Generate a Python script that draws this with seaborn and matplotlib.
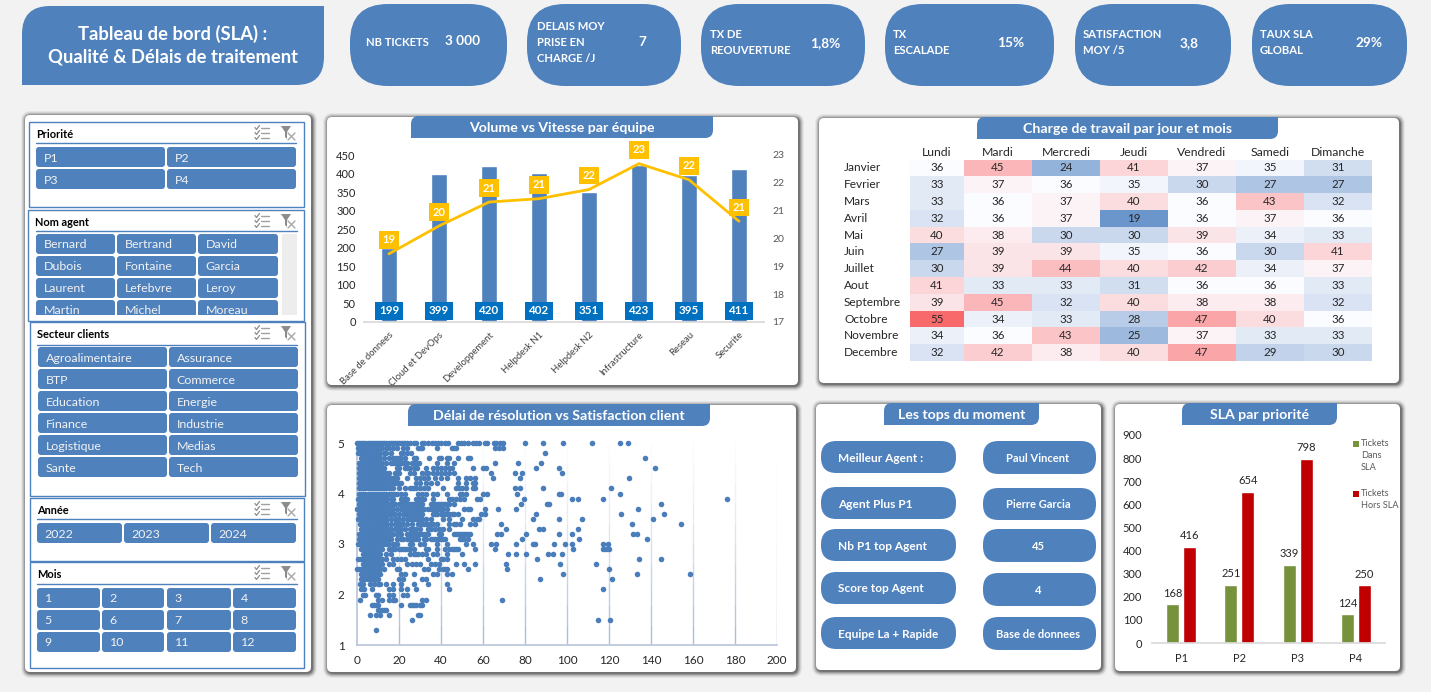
import matplotlib
matplotlib.use("Agg")
import matplotlib.pyplot as plt
import numpy as np
import pandas as pd
import seaborn as sns
from matplotlib.patches import FancyBboxPatch, PathPatch, Rectangle, Polygon
from matplotlib.path import Path
from matplotlib.colors import LinearSegmentedColormap

W, H = 1431, 692
BLUE = "#4F81BD"
BG = "#F2F2F2"

# --- data ---
teams = ["Base de donnees", "Cloud et DevOps", "Developpement", "Helpdesk N1",
         "Helpdesk N2", "Infrastructure", "Reseau", "Securite"]
volumes = [199, 399, 420, 402, 351, 423, 395, 411]
vitesse = [19.45, 20.45, 21.31, 21.43, 21.76, 22.69, 22.11, 20.62]

months = ["Janvier", "Fevrier", "Mars", "Avril", "Mai", "Juin", "Juillet", "Aout",
          "Septembre", "Octobre", "Novembre", "Decembre"]
days = ["Lundi", "Mardi", "Mercredi", "Jeudi", "Vendredi", "Samedi", "Dimanche"]
charge_janvier = [36, 45, 24, 41, 37, 35, 31]
charge_fevrier = [33, 37, 36, 35, 30, 27, 27]
charge_mars = [33, 36, 37, 40, 36, 43, 32]
charge_avril = [32, 36, 37, 19, 36, 37, 36]
charge_mai = [40, 38, 30, 30, 39, 34, 33]
charge_juin = [27, 39, 39, 35, 36, 30, 41]
charge_juillet = [30, 39, 44, 40, 42, 34, 37]
charge_aout = [41, 33, 33, 31, 36, 36, 33]
charge_septembre = [39, 45, 32, 40, 38, 38, 32]
charge_octobre = [55, 34, 33, 28, 47, 40, 36]
charge_novembre = [34, 36, 43, 25, 37, 33, 33]
charge_decembre = [32, 42, 38, 40, 47, 29, 30]

priorites = ["P1", "P2", "P3", "P4"]
dans_sla = [168, 251, 339, 124]
hors_sla = [416, 654, 798, 250]

# delai de resolution for each satisfaction level
delai_50 = [0, 1, 2, 3, 4, 5, 6, 7, 8, 9, 10, 11, 12, 13, 14, 15, 16, 17, 18, 19, 20, 21, 22, 23, 24, 25, 27, 28,
            31, 32, 34, 35.5, 37, 38.5, 40, 42, 43.5, 48, 49.5, 51, 53, 55, 56.5, 58, 61, 62, 65, 66, 68, 69.5, 80,
            88.4, 98, 112, 125, 129]
delai_49 = [0.5, 1.5, 2.5, 3.5, 4.5, 5.5, 6.5, 7.5, 8.5, 9.5, 11, 12, 14, 15, 17, 19, 22, 24, 29, 30, 31, 38, 45,
            46, 47, 65.6, 67.5, 69.4]
delai_48 = [0.5, 1.5, 2.5, 3.5, 4.5, 5.5, 6.5, 7.5, 8.5, 10, 11, 13, 14, 16, 21, 22, 24, 25.5, 89.4]
delai_47 = [2, 3, 4, 5, 6, 7, 8, 9, 10, 11, 13, 15, 17, 18, 19, 20, 21, 23, 27, 28, 34.5, 39, 40, 43, 44, 48, 53,
            54, 137.3]
delai_46 = [1, 2, 3, 4, 5, 6, 7, 8, 9, 10, 11, 12, 14, 16, 17, 18, 19, 20, 21, 22, 23, 24, 26, 27, 28, 29.5, 38, 43,
            46, 65.6, 76.5, 87.5]
delai_45 = [1, 2, 3, 4, 5, 6, 7, 8, 9, 10, 11, 12, 13, 19, 20, 23, 24, 25, 27, 28.5, 33, 36, 38, 40, 42, 44, 45, 55,
            59.8, 61.3, 85, 96, 142]
delai_44 = [1, 2, 3, 4, 5, 6, 7, 8, 9, 10, 11, 12, 13, 14, 15, 18, 19, 20, 25, 27, 31, 33, 34, 36, 38, 40, 42, 44,
            46, 63.7, 75, 78.4, 97.8]
delai_43 = [1, 2, 3, 4, 5, 6, 7, 8, 9, 10, 11, 12, 13, 14, 15, 16, 17, 18, 19, 24, 28, 30, 32, 34, 37, 40, 43, 48,
            52, 54, 56, 64.6, 77.5, 129.7]
delai_42 = [1, 2, 3, 4, 5, 6, 7, 8, 9, 10, 11, 12, 13, 14, 15, 16, 17, 18, 19, 20, 21, 28, 30, 33, 35, 38, 48, 52,
            55, 56]
delai_41 = [1, 2, 3, 4, 5, 6, 7, 8, 9, 10, 11, 12, 13, 14, 15, 16, 17, 20, 23, 25, 26, 27, 28, 30, 32, 34, 41, 47,
            48.5, 50, 52, 55, 56, 75, 77.5, 88.4, 121.1]
delai_40 = [1, 2, 3, 4, 5, 6, 7, 8, 9, 10, 11, 12, 13, 14, 15, 16, 17, 18, 19, 21, 23, 29, 31, 33, 36, 38, 43, 49,
            50, 52, 59.8, 61.7, 76, 96, 97, 125.4]
delai_39 = [0.5, 1.5, 2.5, 3.5, 4.5, 5.5, 6.5, 7.5, 8.5, 9.5, 10.5, 11.5, 12.5, 13.5, 14.5, 16, 17, 21, 22, 23, 24,
            28, 29, 30, 31, 32, 36, 44, 45, 47, 49, 51, 57, 58.5, 79.4, 102.5, 105, 117.3, 176.3]
delai_38 = [1, 2, 3, 4, 5, 6, 7, 8, 9, 10, 11, 12, 13, 14, 15, 16, 17, 18, 20, 21, 22, 23, 24, 25, 26, 27, 28, 29,
            30, 31, 35, 36, 37, 38, 39, 40, 41, 42, 43, 44, 46, 78, 90.3, 91.3, 144.9]
delai_37 = [0, 1, 2, 3, 4, 5, 6, 7, 8, 9, 10, 11, 12, 13, 14, 15, 16, 17, 19, 21, 22, 23, 24, 25, 26, 27, 28, 29,
            30, 31, 32, 34, 35, 36, 37, 38, 39, 40, 41, 43, 51, 53, 54, 60.8, 67, 75.6, 134]
delai_36 = [1, 2, 3, 4, 5, 6, 7, 8, 9, 10, 11, 12, 13, 14, 15, 16, 17, 18, 20, 22, 23, 24, 25, 26, 27, 28, 29, 30,
            31, 36, 37, 38, 40, 41, 42, 43, 44, 45, 46, 48, 58.9, 60.8, 85, 125.9, 146.3]
delai_35 = [0.5, 1.5, 2.5, 3.5, 4.5, 5.5, 6.5, 7.5, 8.5, 9.5, 10.5, 11.5, 12.5, 13.5, 14.5, 16, 18, 19, 20, 22, 24,
            25, 26, 27, 28, 29, 30, 31, 33, 35, 41, 44, 50, 55, 57, 58, 83.6, 96, 107.3, 141]
delai_34 = [1.5, 2.5, 3.5, 4.5, 5.5, 6.5, 7.5, 8.5, 9.5, 10.5, 11.5, 12.5, 13.5, 14.5, 16, 18, 19, 20, 21, 22, 24,
            26, 29, 30, 31, 32, 33, 34, 35, 36, 38, 44, 46, 47, 49, 54, 56, 68.4, 131, 154.4]
delai_33 = [2, 3, 4, 5, 6, 7, 8, 9, 10, 11, 12, 13, 14, 15, 16, 18, 19, 20, 21, 23, 25, 26, 27, 28, 30, 34, 35, 37,
            39, 41, 44, 70.8, 86.5, 88.4, 105]
delai_32 = [1, 2, 3, 4, 5, 6, 7, 8, 9, 10, 11, 12, 13, 14, 15, 16, 17, 19, 20, 21, 24, 25, 26, 27, 28, 29, 30, 31,
            32, 33, 34, 39, 40, 46, 47, 48, 49, 50, 51, 52, 53, 54, 66.5, 68.4, 80.3, 96, 102.5, 131.6, 133.5]
delai_31 = [1, 2, 3, 4, 5, 6, 7, 8, 9, 10, 11, 12, 13, 14, 15, 16, 19, 21, 22, 24, 25, 26, 27, 28, 29, 32, 33, 35,
            36, 37, 38, 39, 40, 41, 42, 49, 50, 51, 53, 78.4, 105.9, 138.3]
delai_30 = [0.5, 1.5, 2.5, 3.5, 4.5, 5.5, 6.5, 7.5, 8.5, 9.5, 10.5, 11.5, 12.5, 14, 15, 17, 18, 19, 25, 26, 30, 32,
            38, 43, 52, 55, 63.7, 66, 75.6, 83.6, 84.6, 93.7, 99, 102.5, 117.3, 119.7]
delai_29 = [2, 3, 4, 5, 6, 7, 8, 9, 10, 11, 12, 15, 16, 17, 18, 20, 21, 22, 23, 24, 25, 27, 33, 34, 38, 42, 44, 45,
            46, 47, 48, 56, 65.6, 103, 117.3, 118.6, 119.8]
delai_28 = [3, 4, 5, 6, 7, 8, 9, 10, 11, 14, 16, 25, 27, 28, 29, 31, 33, 36, 38, 43, 50, 71.7, 75.6, 80.3, 90.8,
            93.2, 97.8]
delai_27 = [0.5, 1.5, 2.5, 3.5, 4.5, 5.5, 6.5, 7.5, 8.5, 10, 11, 12, 14, 17, 19, 21, 23, 34, 40, 41, 43, 85.6,
            134.4, 144.9]
delai_26 = [3, 4, 5, 6, 7, 8, 9, 10, 11, 12, 15, 17, 24, 26, 28, 30, 35, 37, 39, 47, 51, 56, 70.8, 96.7, 114]
delai_25 = [0, 1, 2, 3, 4, 5, 6, 7, 8, 9, 10, 11, 13, 19, 20, 32, 34, 39, 41, 42, 43, 53, 71.3, 120.2]
delai_24 = [2, 3, 4, 5, 6, 7, 8, 9, 10, 11, 21, 23, 27, 36, 38, 43, 45, 98.3, 133.5, 158.7]
delai_23 = [2, 3, 4, 5, 6, 7, 8, 9, 10, 20, 22, 31, 33, 87, 121.6]
delai_22 = [1.5, 3, 6, 8, 10, 11, 14, 17, 21, 27, 34, 43]
delai_21 = [2, 3.5, 7, 15, 17, 21, 24, 28, 44, 117.3]
delai_20 = [3, 4, 9, 10, 15, 17, 22, 24]
delai_19 = [1.5, 10, 12, 15, 17, 18, 31, 33, 68.9]
delai_18 = [7, 8, 9, 10, 21, 25, 26, 27, 28, 30, 31]
delai_17 = [10, 11, 12, 13, 14]
delai_16 = [6, 9, 11, 15, 29, 30]
delai_15 = [26, 114.9, 120.6]
delai_13 = [9]

satisfaction_rows = {
    5.0: delai_50, 4.9: delai_49, 4.8: delai_48, 4.7: delai_47, 4.6: delai_46, 4.5: delai_45, 4.4: delai_44,
    4.3: delai_43, 4.2: delai_42, 4.1: delai_41, 4.0: delai_40, 3.9: delai_39, 3.8: delai_38, 3.7: delai_37,
    3.6: delai_36, 3.5: delai_35, 3.4: delai_34, 3.3: delai_33, 3.2: delai_32, 3.1: delai_31, 3.0: delai_30,
    2.9: delai_29, 2.8: delai_28, 2.7: delai_27, 2.6: delai_26, 2.5: delai_25, 2.4: delai_24, 2.3: delai_23,
    2.2: delai_22, 2.1: delai_21, 2.0: delai_20, 1.9: delai_19, 1.8: delai_18, 1.7: delai_17, 1.6: delai_16,
    1.5: delai_15, 1.3: delai_13,
}

sns.set_theme(style="white")
plt.rcParams["font.family"] = ["Lato", "DejaVu Sans"]

fig = plt.figure(figsize=(W / 100, H / 100), dpi=100, facecolor=BG)

# background layer in pixel coordinates
bg = fig.add_axes([0, 0, 1, 1])
bg.set_xlim(0, W)
bg.set_ylim(H, 0)
bg.axis("off")


def ax_px(x0, y0, x1, y1):
    a = fig.add_axes([x0 / W, 1 - y1 / H, (x1 - x0) / W, (y1 - y0) / H])
    a.patch.set_alpha(0)
    return a


def rbox(x0, y0, x1, y1, r, color=BLUE, z=2, **kw):
    p = FancyBboxPatch((x0 + r, y0 + r), x1 - x0 - 2 * r, y1 - y0 - 2 * r,
                       boxstyle=f"round,pad={r},rounding_size={r}",
                       fc=color, ec="none", zorder=z, **kw)
    bg.add_patch(p)


def tab(x0, y0, x1, y1, r, z=6):
    # top-left and bottom-right corners rounded
    verts = [(x0, y1), (x0, y0 + r), (x0, y0), (x0 + r, y0), (x1, y0), (x1, y1 - r), (x1, y1),
             (x1 - r, y1), (x0, y1), (x0, y1)]
    codes = [Path.MOVETO, Path.LINETO, Path.CURVE3, Path.CURVE3, Path.LINETO, Path.LINETO,
             Path.CURVE3, Path.CURVE3, Path.LINETO, Path.CLOSEPOLY]
    bg.add_patch(PathPatch(Path(verts, codes), fc=BLUE, ec="none", zorder=z))


def card(x0, y0, x1, y1, title=None, tx0=0, tx1=0, fs=10.2):
    # soft shadow, then the white card
    for g, al in [(5, 0.05), (4, 0.08), (3, 0.12), (2, 0.17), (1, 0.24)]:
        rbox(x0 - g + 1, y0 - g + 1, x1 + g + 1, y1 + g + 1, 5 + g, color="black", z=1, alpha=al)
    rbox(x0, y0, x1, y1, 5, color="white", z=1.5)
    if title:
        tab(tx0, y0 - 1, tx1, y0 + 21, 8)
        bg.text((tx0 + tx1) / 2, y0 + 11, title, color="white", fontsize=fs, fontweight="bold",
                ha="center", va="center", zorder=7)


def icons(y, x=255):
    for i in range(3):
        yy = y - 5 + i * 5
        bg.plot([x + 6, x + 14], [yy, yy], color="#A0A0A0", lw=1, zorder=4)
        bg.plot([x, x + 1.5, x + 4.5], [yy - 0.5, yy + 1.5, yy - 2.5], color="#8C8C8C", lw=0.9, zorder=4)
    fx = x + 26
    bg.add_patch(Polygon([(fx, y - 7), (fx + 10, y - 7), (fx + 6, y - 1), (fx + 6, y + 6), (fx + 4, y + 4),
                          (fx + 4, y - 1)], fc="#8C8C8C", ec="none", zorder=4))
    bg.plot([fx + 7, fx + 14], [y, y + 7], color="#A6A6A6", lw=1, zorder=4)
    bg.plot([fx + 7, fx + 14], [y + 7, y], color="#A6A6A6", lw=1, zorder=4)


def slicer(x0, y0, x1, y1, title, tx, ty, div_y, div0, div1, cols, rows, labels):
    bg.add_patch(Rectangle((x0, y0), x1 - x0, y1 - y0, fc="none", ec=BLUE, lw=1, zorder=5))
    bg.text(tx, ty + 1, title, color="black", fontsize=7.9, fontweight="bold", ha="left", va="center", zorder=4)
    bg.plot([div0, div1], [div_y, div_y], color=BLUE, lw=1, zorder=4)
    icons(ty)
    k = 0
    for r0, r1 in rows:
        for c0, c1 in cols:
            if k >= len(labels):
                return
            rbox(c0, r0, c1, r1, 3)
            bg.text(c0 + 7.5, (r0 + r1) / 2 + 1, labels[k], color="#F2F2F2", fontsize=8.9, ha="left",
                    va="center", zorder=3)
            k += 1


# --- header ---
verts = [(22, 85), (22, 34), (22, 6), (50, 6), (324, 6), (324, 57), (324, 85), (296, 85), (22, 85), (22, 85)]
codes = [Path.MOVETO, Path.LINETO, Path.CURVE3, Path.CURVE3, Path.LINETO, Path.LINETO, Path.CURVE3, Path.CURVE3,
         Path.LINETO, Path.CLOSEPOLY]
bg.add_patch(PathPatch(Path(verts, codes), fc=BLUE, ec="none", zorder=2))
bg.text(173, 34, "Tableau de bord (SLA) :", color="white", fontsize=13.2, fontweight="bold", ha="center", va="center")
bg.text(173, 57, "Qualité & Délais de traitement", color="white", fontsize=13.2, fontweight="bold", ha="center",
        va="center")

kpi_boxes = [(350, 507), (527, 681), (701, 865), (885, 1054), (1075, 1231), (1252, 1407)]
kpi_labels = [["NB TICKETS"], ["DELAIS MOY", "PRISE EN", "CHARGE /J"], ["TX DE", "REOUVERTURE"],
              ["TX", "ESCALADE"], ["SATISFACTION", "MOY /5"], ["TAUX SLA", "GLOBAL"]]
kpi_values = ["3 000", "7", "1,8%", "15%", "3,8", "29%"]
kpi_text_x = [366, 537, 710, 893, 1083, 1260]
kpi_text_y = [[42], [27, 42, 59], [34, 50], [34, 50], [34, 50], [34, 50]]
kpi_val_x = [463, 642, 825, 1011, 1189, 1369]
kpi_val_y = [41, 42, 43, 43, 43, 43]
for (x0, x1), lab, val, tx, tys, vx, vy in zip(kpi_boxes, kpi_labels, kpi_values, kpi_text_x, kpi_text_y,
                                               kpi_val_x, kpi_val_y):
    rbox(x0, 4, x1, 86, 38)
    for line, ty in zip(lab, tys):
        bg.text(tx, ty, line, color="white", fontsize=8.1, fontweight="bold", ha="left", va="center")
    bg.text(vx, vy, val, color="white", fontsize=9.8, fontweight="bold", ha="center", va="center")

# --- slicers ---
card(25, 115, 311, 672)
slicer(29, 122, 304, 207, "Priorité", 36, 133, 143, 36, 296,
       [(36, 165), (167, 296)], [(147, 167), (169, 189)], ["P1", "P2", "P3", "P4"])
slicer(28, 210, 304, 321, "Nom agent", 35, 221, 231, 36, 297,
       [(36, 115), (117, 196), (198, 278)], [(234, 254), (256, 276), (278, 298), (300, 320)],
       ["Bernard", "Bertrand", "David", "Dubois", "Fontaine", "Garcia", "Laurent", "Lefebvre", "Leroy",
        "Martin", "Michel", "Moreau"])
bg.add_patch(Rectangle((28.5, 315), 275, 5.5, fc="white", ec="none", zorder=4))
bg.add_patch(Rectangle((282, 234), 15, 81, fc="#EDEDED", ec="none", zorder=2))
slicer(30, 322, 305, 496, "Secteur clients", 37, 333, 345, 37, 297,
       [(38, 167), (169, 298)], [(347, 367), (369, 389), (391, 411), (413, 433), (435, 455), (457, 477)],
       ["Agroalimentaire", "Assurance", "BTP", "Commerce", "Education", "Energie", "Finance", "Industrie",
        "Logistique", "Medias", "Sante", "Tech"])
slicer(30, 498, 304, 561, "Année", 37, 509, 519, 37, 297,
       [(37, 122), (124, 209), (211, 296)], [(523, 543)], ["2022", "2023", "2024"])
slicer(30, 562, 304, 668, "Mois", 37, 573, 584, 37, 297,
       [(37, 100), (102, 164), (167, 231), (233, 296)], [(588, 608), (610, 630), (632, 652)],
       ["1", "2", "3", "4", "5", "6", "7", "8", "9", "10", "11", "12"])

# --- Volume vs Vitesse ---
card(327, 117, 798, 385, "Volume vs Vitesse par équipe", 411, 713)
ax = ax_px(364, 155, 764, 322)
df_vol = pd.DataFrame({"equipe": teams, "volume": volumes})
sns.barplot(data=df_vol, x="equipe", y="volume", color=BLUE, saturation=1, width=0.32, ax=ax)
ax.set_ylim(0, 450)
ax.set_xlim(-0.5, 7.5)
ax.set_yticks(range(0, 451, 50))
ax.set_xlabel("")
ax.set_ylabel("")
sns.despine(ax=ax, left=True)
ax.spines["bottom"].set_color("#D9D9D9")
ax.tick_params(axis="y", length=0, labelsize=8, labelcolor="#262626", pad=6)
ax.tick_params(axis="x", length=0, labelsize=6.8, labelcolor="#404040", pad=6)
ax.set_xticks(range(len(teams)))
ax.set_xticklabels(teams, rotation=45, ha="right", rotation_mode="anchor")
for i, v in enumerate(volumes):
    ax.text(i, 30, str(v), color="white", fontsize=8.4, fontweight="bold", ha="center", va="center",
            bbox=dict(boxstyle="square,pad=0.3", fc="#0070C0", ec="none"))
ax2 = ax.twinx()
ax2.patch.set_alpha(0)
sns.lineplot(x=np.arange(len(teams)), y=vitesse, color="#FFC000", lw=2, ax=ax2)
ax2.set_ylim(17, 23)
ax2.set_yticks(range(17, 24))
ax2.tick_params(axis="y", length=0, labelsize=7.5, labelcolor="#595959", pad=6)
sns.despine(ax=ax2, left=True, right=True, bottom=True)
for i, v in enumerate(vitesse):
    ax2.annotate(f"{v:.0f}", (i, v), xytext=(0, 10), textcoords="offset points", color="white", fontsize=8,
                 fontweight="bold", ha="center", va="center", annotation_clip=False,
                 bbox=dict(boxstyle="square,pad=0.3", fc="#FFC000", ec="none"))

# --- Heatmap ---
card(819, 118, 1399, 383, "Charge de travail par jour et mois", 977, 1278)
charge = pd.DataFrame([charge_janvier, charge_fevrier, charge_mars, charge_avril, charge_mai, charge_juin,
                       charge_juillet, charge_aout, charge_septembre, charge_octobre, charge_novembre,
                       charge_decembre], index=months, columns=days)
cmap = LinearSegmentedColormap.from_list("sla", ["#5A8AC6", "#FCFCFF", "#F8696B"])
# Lundi is narrower than the other columns in the reference
ax_l = ax_px(910, 159.5, 964, 361)
ax_r = ax_px(964, 159.5, 1372, 361)
hm_kw = dict(cmap=cmap, center=36, vmin=19, vmax=55, annot=True, fmt="d", cbar=False,
             annot_kws={"fontsize": 8.3, "color": "#262626"})
sns.heatmap(charge[days[:1]], ax=ax_l, **hm_kw)
sns.heatmap(charge[days[1:]], ax=ax_r, yticklabels=False, **hm_kw)
for a in (ax_l, ax_r):
    a.xaxis.tick_top()
    a.tick_params(axis="x", length=0, labelsize=8.8, labelcolor="#262626", pad=1, rotation=0)
    a.set_xlabel("")
    a.set_ylabel("")
ax_l.tick_params(axis="y", length=0, labelsize=8.6, labelcolor="#262626", pad=47.5, rotation=0)
for t in ax_l.get_yticklabels():
    t.set_ha("left")

# --- Scatter ---
card(327, 405, 796, 672, "Délai de résolution vs Satisfaction client", 408, 710)
rows = [pd.DataFrame({"delai": d, "satisfaction": s}) for s, d in satisfaction_rows.items()]
df_sat = pd.concat(rows, ignore_index=True)
ax3 = ax_px(357, 443, 777, 645)
ax3.set_xlim(0, 200)
ax3.set_ylim(1, 5)
alphas = [0.05, 0.1, 0.16, 0.24, 0.32, 0.42, 0.52, 0.62, 0.72, 0.82]
for xg in range(20, 201, 20):
    for j, al in enumerate(alphas):
        ax3.vlines(xg, 5 - j * 0.4, 5 - (j + 1) * 0.4, color="#95B3D7", lw=1, alpha=al, zorder=0)
sns.scatterplot(data=df_sat, x="delai", y="satisfaction", color="#4A7EBB", s=16, linewidth=0, ax=ax3, zorder=3,
                clip_on=False)
ax3.set_xticks(range(0, 201, 20))
ax3.set_yticks(range(1, 6))
ax3.set_xlabel("")
ax3.set_ylabel("")
for s in ("top", "right"):
    ax3.spines[s].set_visible(False)
for s in ("left", "bottom"):
    ax3.spines[s].set_color("#B9C7DC")
ax3.tick_params(axis="both", length=0, labelsize=8.5, labelcolor="#262626")
ax3.tick_params(axis="x", pad=7)
ax3.tick_params(axis="y", pad=9)

# --- Les tops du moment ---
card(816, 404, 1101, 670, "Les tops du moment", 884, 1039)
top_labels = ["Meilleur Agent :", "Agent Plus P1", "Nb P1 top Agent", "Score top Agent", "Equipe La + Rapide"]
top_values = ["Paul Vincent", "Pierre Garcia", "45", "4", "Base de donnees"]
top_left_y = [(441, 473), (487, 519), (529, 561), (572, 604), (617, 649)]
top_right_y = [(441, 474), (488, 520), (529, 562), (573, 606), (617, 650)]
for lab, val, (a0, a1), (b0, b1) in zip(top_labels, top_values, top_left_y, top_right_y):
    rbox(821, a0, 956, a1, 15.5)
    rbox(983, b0, 1096, b1, 15.5)
    bg.text(838, (a0 + a1) / 2 + 1, lab, color="white", fontsize=8.6, fontweight="bold", ha="left", va="center")
    bg.text(1038, (b0 + b1) / 2 + 0.5, val, color="white", fontsize=8, fontweight="bold", ha="center", va="center")

# --- SLA par priorite ---
card(1115, 404, 1400, 671, "SLA par priorité", 1182, 1337)
df_sla = pd.DataFrame({"priorite": priorites * 2, "tickets": dans_sla + hors_sla,
                       "statut": ["Dans"] * 4 + ["Hors"] * 4})
ax4 = ax_px(1152, 435, 1385, 643)
sns.barplot(data=df_sla, x="priorite", y="tickets", hue="statut", palette=["#76923C", "#C00000"], saturation=1,
            width=0.583, gap=0.235, legend=False, ax=ax4)
ax4.set_ylim(0, 900)
ax4.set_xlim(-0.5, 3.5)
ax4.set_yticks(range(0, 901, 100))
ax4.set_xlabel("")
ax4.set_ylabel("")
sns.despine(ax=ax4, left=True)
ax4.spines["bottom"].set_color("#D9D9D9")
ax4.tick_params(axis="y", length=0, labelsize=8, labelcolor="#262626", pad=7)
ax4.tick_params(axis="x", length=0, labelsize=8, labelcolor="#262626", pad=7)
for cont in ax4.containers:
    ax4.bar_label(cont, fmt="%d", padding=4, fontsize=8, color="#262626")
legend_lines = [(444, "Tickets"), (456, "Dans"), (468, "SLA"), (494, "Tickets"), (505, "Hors SLA")]
for ly, txt in legend_lines:
    bg.text(1361, ly, txt, color="#595959", fontsize=6.6, ha="left", va="center", zorder=3)
bg.add_patch(Rectangle((1353, 441), 6, 6, fc="#76923C", ec="none", zorder=3))
bg.add_patch(Rectangle((1353, 491), 6, 6, fc="#C00000", ec="none", zorder=3))

fig.savefig("out.png", dpi=100, facecolor=BG)
